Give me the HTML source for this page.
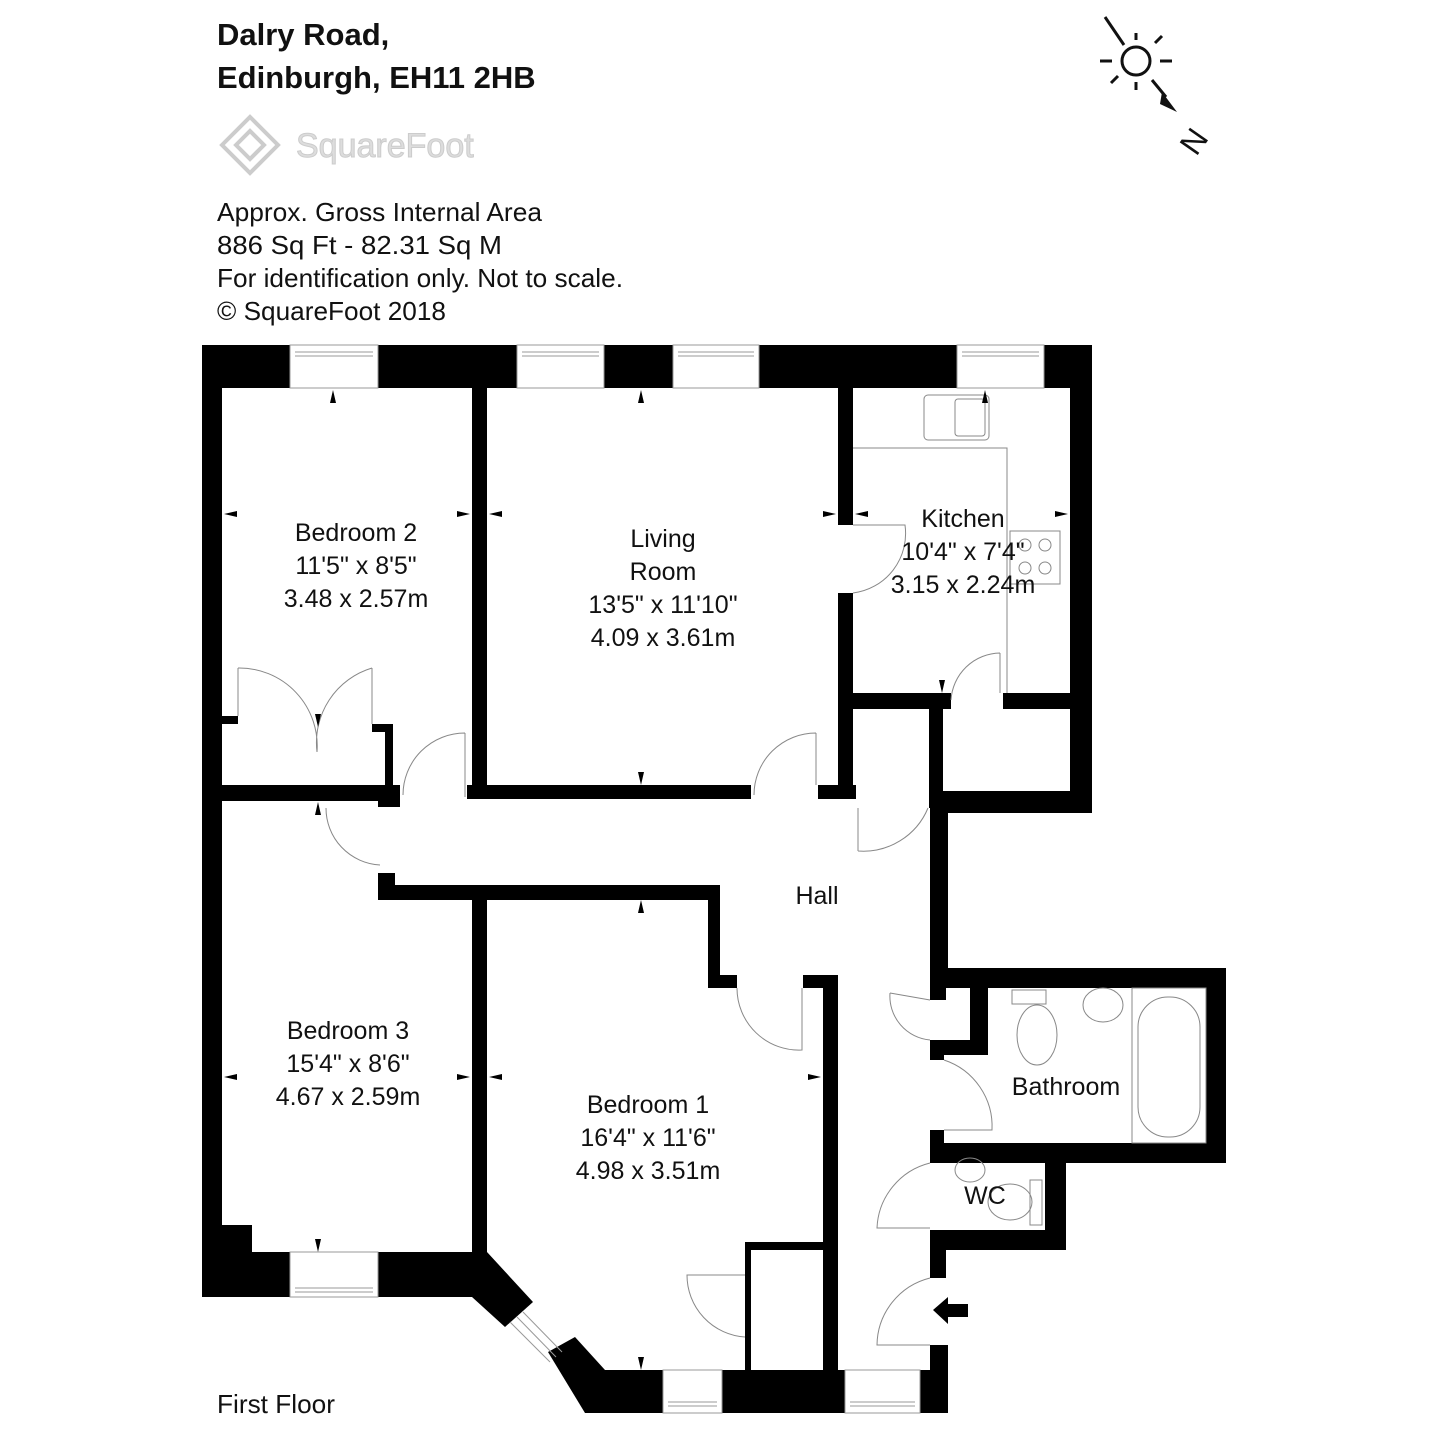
<!DOCTYPE html>
<html><head><meta charset="utf-8"><style>
body{margin:0;background:#fff;}
svg{display:block;font-family:"Liberation Sans",sans-serif;}
</style></head><body>
<svg width="1429" height="1429" viewBox="0 0 1429 1429" xmlns="http://www.w3.org/2000/svg">
<rect width="1429" height="1429" fill="#fff"/>
<g font-family="Liberation Sans, sans-serif" fill="#111">
<text x="217" y="45" font-size="31" font-weight="bold">Dalry Road,</text>
<text x="217" y="88" font-size="31" font-weight="bold">Edinburgh, EH11 2HB</text>
<text x="296" y="157" font-size="34" fill="#ddd" stroke="#ccc" stroke-width="1">SquareFoot</text>
<text x="217" y="221" font-size="26" textLength="325" lengthAdjust="spacingAndGlyphs">Approx. Gross Internal Area</text>
<text x="217" y="254" font-size="26" textLength="285" lengthAdjust="spacingAndGlyphs">886 Sq Ft  -  82.31 Sq M</text>
<text x="217" y="287" font-size="26" textLength="406" lengthAdjust="spacingAndGlyphs">For identification only. Not to scale.</text>
<text x="217" y="320" font-size="26" textLength="229" lengthAdjust="spacingAndGlyphs">© SquareFoot 2018</text>
<text x="217" y="1413" font-size="26" textLength="118" lengthAdjust="spacingAndGlyphs">First Floor</text>
</g>
<g fill="none" stroke="#ccc" stroke-width="4">
<path d="M222 145 L250 117 L278 145 L250 173 Z"/><path d="M236 145 L250 131 L264 145 L250 159 Z"/>
</g>
<g stroke="#111" stroke-width="3" fill="none">
<circle cx="1136" cy="61" r="14"/>
<line x1="1105" y1="17" x2="1124" y2="45"/><line x1="1152" y1="80" x2="1166" y2="97"/>
<line x1="1136" y1="33" x2="1136" y2="40"/><line x1="1136" y1="82" x2="1136" y2="90"/>
<line x1="1100" y1="61" x2="1112" y2="61"/><line x1="1160" y1="61" x2="1172" y2="61"/>
<line x1="1111" y1="83" x2="1118" y2="76"/><line x1="1155" y1="43" x2="1162" y2="36"/>
</g>
<polygon points="1162,92 1177,112 1160,104" fill="#111"/>
<text x="1180" y="150" font-size="32" transform="rotate(-55 1195 138)" fill="#111">N</text>

<g fill="#000">
<rect x="202" y="345" width="885" height="43"/>
<rect x="202" y="345" width="20" height="952"/>
<rect x="1070" y="345" width="22" height="468"/>
<rect x="930" y="791" width="162" height="22"/>
<rect x="838" y="388" width="15" height="137"/>
<rect x="838" y="593" width="15" height="204"/>
<rect x="840" y="693" width="111" height="16"/>
<rect x="1003" y="693" width="67" height="16"/>
<rect x="929" y="693" width="14" height="115"/>
<rect x="472" y="388" width="15" height="409"/>
<rect x="467" y="785" width="284" height="14"/>
<rect x="818" y="785" width="38" height="14"/>
<rect x="222" y="785" width="178" height="16"/>
<rect x="378" y="785" width="22" height="22"/>
<rect x="385" y="724" width="8" height="63"/>
<rect x="372" y="724" width="20" height="8"/>
<rect x="222" y="716" width="16" height="8"/>
<rect x="378" y="873" width="17" height="27"/>
<rect x="378" y="885" width="342" height="15"/>
<rect x="708" y="885" width="12" height="103"/>
<rect x="708" y="975" width="29" height="13"/>
<rect x="472" y="885" width="15" height="367"/>
<rect x="823" y="975" width="15" height="400"/>
<rect x="803" y="975" width="35" height="13"/>
<rect x="745" y="1242" width="80" height="8"/>
<rect x="745" y="1242" width="6" height="130"/>
<rect x="930" y="806" width="18" height="182"/>
<rect x="930" y="968" width="296" height="20"/>
<rect x="1206" y="968" width="20" height="195"/>
<rect x="930" y="1143" width="296" height="20"/>
<rect x="930" y="988" width="16" height="12"/>
<rect x="970" y="988" width="18" height="67"/>
<rect x="930" y="1040" width="58" height="15"/>
<rect x="930" y="1040" width="14" height="20"/>
<rect x="930" y="1130" width="14" height="20"/>
<rect x="1045" y="1143" width="21" height="107"/>
<rect x="930" y="1230" width="136" height="20"/>
<rect x="930" y="1230" width="16" height="48"/>
<rect x="930" y="1345" width="18" height="68"/>
<rect x="590" y="1370" width="358" height="43"/>
<rect x="202" y="1225" width="50" height="72"/>
<rect x="202" y="1252" width="270" height="45"/>
<polygon points="472,1252 487,1252 533,1302 505,1327 472,1297"/>
<polygon points="548,1352 575,1337 605,1370 590,1413 585,1413"/>
</g>
<g fill="#fff" stroke="#999" stroke-width="1">
<rect x="290" y="345" width="88" height="43"/>
<rect x="517" y="345" width="87" height="43"/>
<rect x="673" y="345" width="86" height="43"/>
<rect x="957" y="345" width="87" height="43"/>
<rect x="290" y="1252" width="88" height="45"/>
<rect x="663" y="1370" width="59" height="43"/>
<rect x="845" y="1370" width="75" height="43"/>
</g>
<g stroke="#999" stroke-width="1">
<line x1="295" y1="352" x2="373" y2="352"/><line x1="295" y1="356" x2="373" y2="356"/>
<line x1="522" y1="352" x2="599" y2="352"/><line x1="522" y1="356" x2="599" y2="356"/>
<line x1="678" y1="352" x2="754" y2="352"/><line x1="678" y1="356" x2="754" y2="356"/>
<line x1="962" y1="352" x2="1039" y2="352"/><line x1="962" y1="356" x2="1039" y2="356"/>
<line x1="295" y1="1288" x2="373" y2="1288"/><line x1="295" y1="1292" x2="373" y2="1292"/>
<line x1="668" y1="1402" x2="717" y2="1402"/><line x1="668" y1="1406" x2="717" y2="1406"/>
<line x1="850" y1="1402" x2="915" y2="1402"/><line x1="850" y1="1406" x2="915" y2="1406"/>
<line x1="510" y1="1322" x2="550" y2="1362"/><line x1="517" y1="1317" x2="556" y2="1357"/><line x1="523" y1="1312" x2="562" y2="1352"/>
</g>
<g fill="none" stroke="#888" stroke-width="1">
<path d="M465 733 L465 797 M465 733 A 62 62 0 0 0 403 795"/>
<path d="M816 733 L816 785 M816 733 A 62 62 0 0 0 754 795"/>
<path d="M853 593 A 60 60 0 0 0 905 525 L853 525"/>
<path d="M1000 653 L1000 693 M1000 653 A 50 50 0 0 0 951 700"/>
<path d="M858 851 L858 808 M858 851 A 70 70 0 0 0 928 808"/>
<path d="M326 808 A 57 57 0 0 0 380 865"/>
<path d="M238 668 L238 716 M238 668 A 78 78 0 0 1 317 752 M372 668 L372 724 M372 668 A 78 78 0 0 0 317 752"/>
<path d="M737 988 A 62 62 0 0 0 802 1050 L802 988"/>
<path d="M930 1000 L890 993 M890 993 A 44 44 0 0 0 930 1040"/>
<path d="M944 1060 A 70 70 0 0 1 992 1130 L944 1130"/>
<path d="M930 1163 A 70 70 0 0 0 877 1228 L930 1228"/>
<path d="M930 1278 A 70 70 0 0 0 877 1345 L930 1345"/>
<path d="M745 1275 L687 1275 A 62 62 0 0 0 745 1337"/>
<path d="M853 448 L1007 448 L1007 693"/>
<rect x="924" y="395" width="65" height="45" rx="4"/>
<rect x="955" y="399" width="30" height="37" rx="3"/>
<rect x="1010" y="531" width="50" height="53"/>
<circle cx="1025" cy="545" r="6"/><circle cx="1045" cy="545" r="6"/><circle cx="1025" cy="568" r="6"/><circle cx="1045" cy="568" r="6"/>
<rect x="1132" y="988" width="74" height="155"/>
<rect x="1138" y="997" width="62" height="140" rx="30"/>
<rect x="1012" y="990" width="34" height="14"/>
<ellipse cx="1037" cy="1035" rx="20" ry="30"/>
<ellipse cx="1103" cy="1005" rx="20" ry="17"/>
<ellipse cx="970" cy="1170" rx="15" ry="12"/>
<rect x="1030" y="1180" width="12" height="45"/>
<ellipse cx="1010" cy="1202" rx="22" ry="18"/>
</g>
<polygon points="933,1310 948,1297 948,1304 968,1304 968,1317 948,1317 948,1324" fill="#000"/>
<g fill="#000">
<polygon points="333,390 330,403 336,403"/><polygon points="641,390 638,403 644,403"/>
<polygon points="641,785 638,772 644,772"/><polygon points="641,900 638,913 644,913"/>
<polygon points="641,1370 638,1357 644,1357"/><polygon points="318,1252 315,1239 321,1239"/>
<polygon points="318,802 315,815 321,815"/><polygon points="318,727 315,714 321,714"/>
<polygon points="942,693 939,680 945,680"/><polygon points="985,390 982,403 988,403"/>
<polygon points="224,514 237,511 237,517"/><polygon points="470,514 457,511 457,517"/>
<polygon points="489,514 502,511 502,517"/><polygon points="836,514 823,511 823,517"/>
<polygon points="855,514 868,511 868,517"/><polygon points="1068,514 1055,511 1055,517"/>
<polygon points="224,1077 237,1074 237,1080"/><polygon points="470,1077 457,1074 457,1080"/>
<polygon points="489,1077 502,1074 502,1080"/><polygon points="821,1077 808,1074 808,1080"/>
</g>
<g font-family="Liberation Sans, sans-serif" font-size="25" fill="#111" text-anchor="middle">
<text x="356" y="541">Bedroom 2</text><text x="356" y="574">11'5" x 8'5"</text><text x="356" y="607">3.48 x 2.57m</text>
<text x="663" y="547">Living</text><text x="663" y="580">Room</text><text x="663" y="613">13'5" x 11'10"</text><text x="663" y="646">4.09 x 3.61m</text>
<text x="963" y="527">Kitchen</text><text x="963" y="560">10'4" x 7'4"</text><text x="963" y="593">3.15 x 2.24m</text>
<text x="817" y="904">Hall</text>
<text x="348" y="1039">Bedroom 3</text><text x="348" y="1072">15'4" x 8'6"</text><text x="348" y="1105">4.67 x 2.59m</text>
<text x="648" y="1113">Bedroom 1</text><text x="648" y="1146">16'4" x 11'6"</text><text x="648" y="1179">4.98 x 3.51m</text>
<text x="1066" y="1095">Bathroom</text>
<text x="985" y="1204">WC</text>
</g>
</svg>
</body></html>
